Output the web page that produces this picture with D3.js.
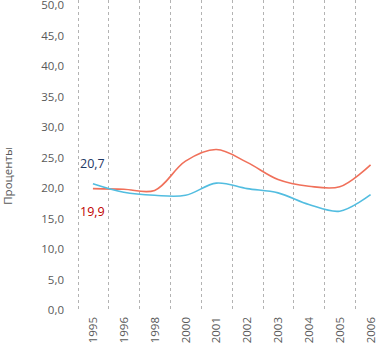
<!DOCTYPE html>
<html>
<head>
<meta charset="utf-8">
<script src="https://cdn.jsdelivr.net/npm/d3@7"></script>
<style>
  body { margin: 0; background: #fff; }
  text { font-family: "Open Sans", "Noto Sans", sans-serif; }
</style>
</head>
<body>
<div id="chart"></div>
<script>
var years = ["1995", "1996", "1998", "2000", "2001", "2002", "2003", "2004", "2005", "2006"];
var redValues = [19.9, 19.8, 19.6, 24.4, 26.3, 24.2, 21.4, 20.3, 20.2, 23.8];
var blueValues = [20.7, 19.3, 18.8, 18.8, 20.8, 19.9, 19.2, 17.3, 16.2, 18.9];
var yTicks = [0, 5, 10, 15, 20, 25, 30, 35, 40, 45, 50];

var svgWidth = 376;
var svgHeight = 346;

var svg = d3.select("#chart")
    .append("svg")
    .attr("width", svgWidth)
    .attr("height", svgHeight);

// scales
var xScale = d3.scaleBand()
    .domain(years)
    .range([77.5, 77.5 + 10 * 30.85])
    .padding(0);

var yScale = d3.scaleLinear()
    .domain([0, 50])
    .range([310, 5]);

var fmt = function (d) { return d3.format(".1f")(d).replace(".", ","); };

// vertical dashed gridlines at category boundaries
svg.append("g")
    .selectAll("line")
    .data(years)
    .enter()
    .append("line")
    .attr("x1", d => Math.round(xScale(d)) + 0.5)
    .attr("x2", d => Math.round(xScale(d)) + 0.5)
    .attr("y1", 0)
    .attr("y2", 310)
    .attr("stroke", "#b3b3b3")
    .attr("stroke-width", 1)
    .attr("stroke-dasharray", "3,3");

// y axis
var leftAxis = d3.axisLeft(yScale)
    .tickValues(yTicks)
    .tickSize(0)
    .tickPadding(0)
    .tickFormat(fmt);

var yAxis = svg.append("g")
    .attr("transform", "translate(64, 0)")
    .call(leftAxis);
yAxis.select(".domain").remove();
yAxis.selectAll("text")
    .attr("fill", "#595959")
    .attr("font-size", "11.5px")
    .style("font-family", "'Open Sans', sans-serif");

// x axis
var bottomAxis = d3.axisBottom(xScale).tickSize(0);
var xAxis = svg.append("g")
    .attr("transform", "translate(0, 310)")
    .call(bottomAxis);
xAxis.select(".domain").remove();
xAxis.selectAll("text")
    .attr("transform", "rotate(-90)")
    .attr("x", -7)
    .attr("y", 0)
    .attr("dy", "0.35em")
    .style("text-anchor", "end")
    .attr("fill", "#595959")
    .attr("font-size", "11.5px")
    .style("font-family", "'Open Sans', sans-serif");

// y axis title
svg.append("text")
    .attr("transform", "translate(12, 176) rotate(-90)")
    .attr("text-anchor", "middle")
    .attr("fill", "#595959")
    .attr("font-size", "11.5px")
    .text("Проценты");

// lines
var line = d3.line()
    .x((d, i) => xScale(years[i]) + xScale.bandwidth() / 2)
    .y(d => yScale(d))
    .curve(d3.curveCatmullRom);

svg.append("path")
    .datum(redValues)
    .attr("fill", "none")
    .attr("stroke", "#f0705a")
    .attr("stroke-width", 1.6)
    .attr("d", line);

svg.append("path")
    .datum(blueValues)
    .attr("fill", "none")
    .attr("stroke", "#52bde0")
    .attr("stroke-width", 1.6)
    .attr("d", line);

// value labels for 1995
svg.append("text")
    .attr("x", 80)
    .attr("y", yScale(blueValues[0]) - 16)
    .attr("fill", "#1f3864")
    .attr("font-size", "12.5px")
    .text(fmt(blueValues[0]));

svg.append("text")
    .attr("x", 80)
    .attr("y", yScale(redValues[0]) + 27)
    .attr("fill", "#c00000")
    .attr("font-size", "12.5px")
    .text(fmt(redValues[0]));
</script>
</body>
</html>
